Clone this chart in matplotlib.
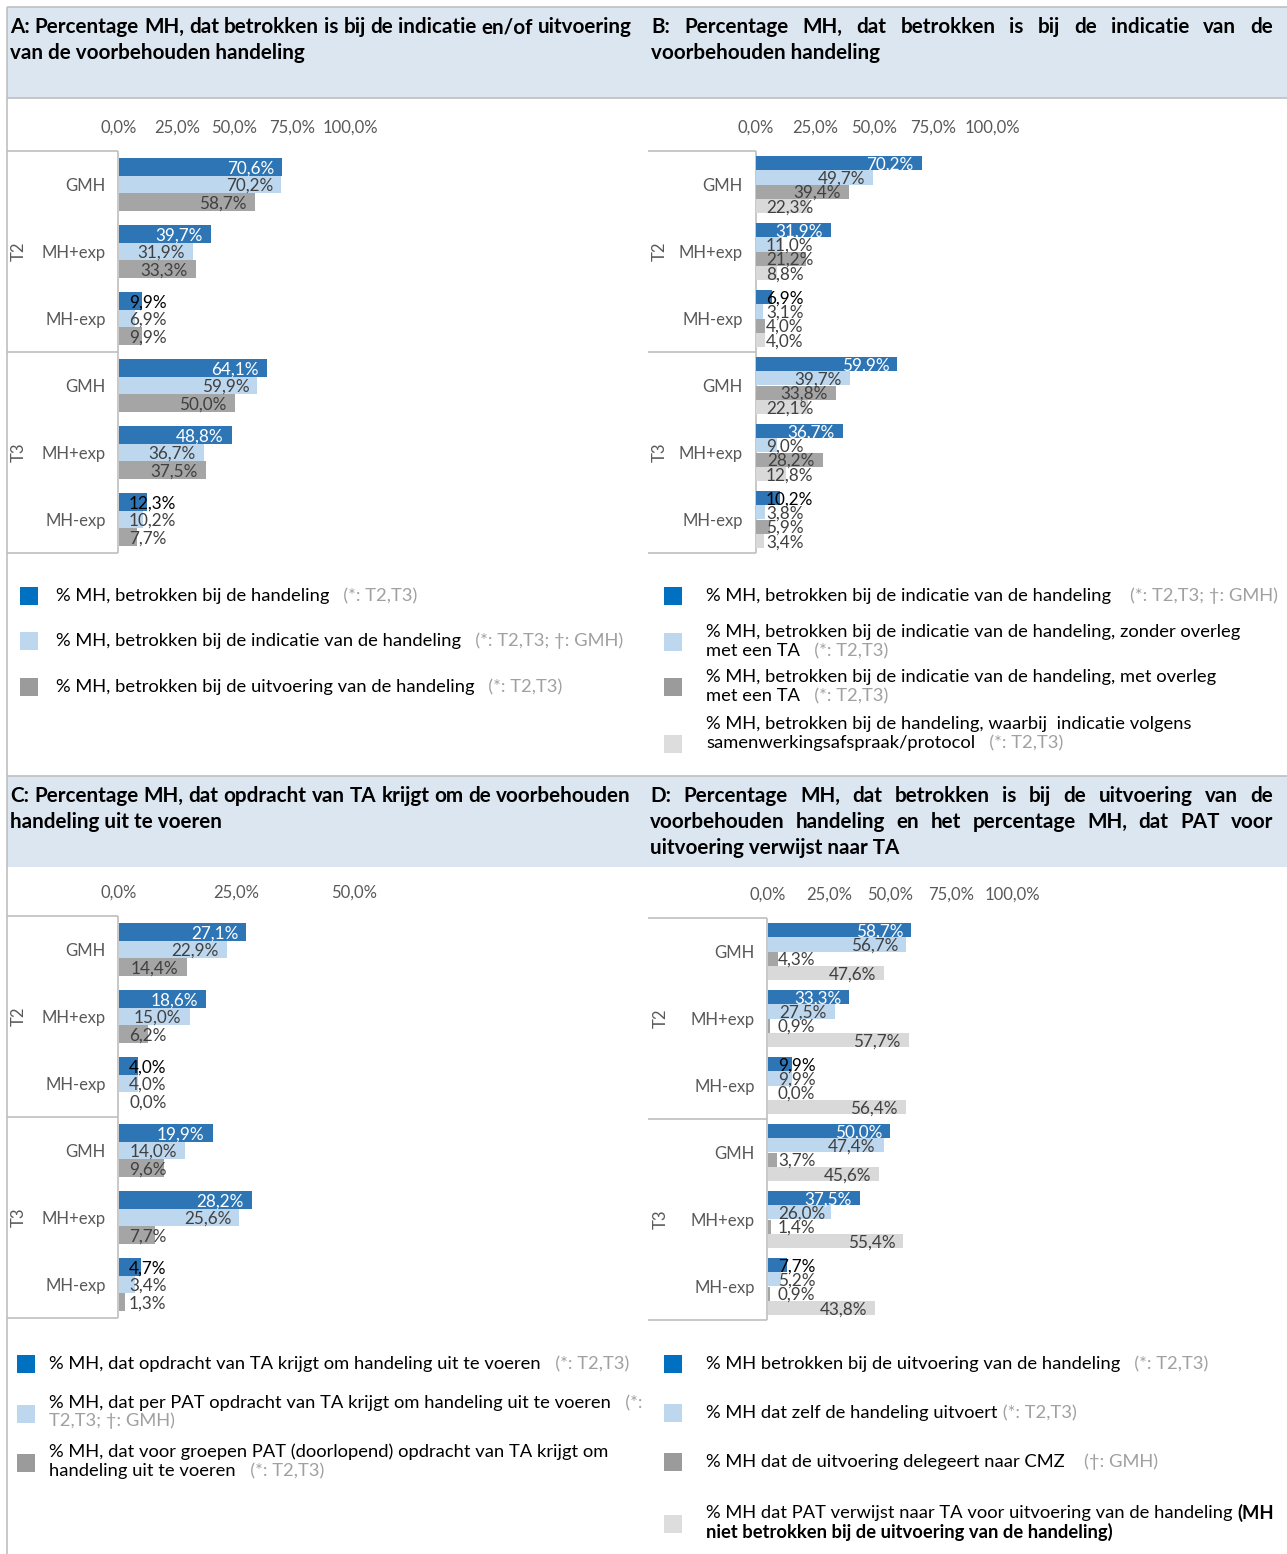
import matplotlib
matplotlib.use("Agg")
import matplotlib.pyplot as plt
from matplotlib.patches import Rectangle

plt.rcParams["font.family"] = ["Lato", "DejaVu Sans"]

# ---- data -------------------------------------------------------------
periods = ["T2", "T3"]
groups = ["GMH", "MH+exp", "MH-exp"]
rows = [g for p in periods for g in groups]

# A
a_handeling = [70.6, 39.7, 9.9, 64.1, 48.8, 12.3]
a_indicatie = [70.2, 31.9, 6.9, 59.9, 36.7, 10.2]
a_uitvoering = [58.7, 33.3, 9.9, 50.0, 37.5, 7.7]
# B
b_indicatie = [70.2, 31.9, 6.9, 59.9, 36.7, 10.2]
b_zonder_overleg = [49.7, 11.0, 3.1, 39.7, 9.0, 3.8]
b_met_overleg = [39.4, 21.2, 4.0, 33.8, 28.2, 5.9]
b_protocol = [22.3, 8.8, 4.0, 22.1, 12.8, 3.4]
# C
c_opdracht = [27.1, 18.6, 4.0, 19.9, 28.2, 4.7]
c_per_pat = [22.9, 15.0, 4.0, 14.0, 25.6, 3.4]
c_groepen = [14.4, 6.2, 0.0, 9.6, 7.7, 1.3]
# D
d_uitvoering = [58.7, 33.3, 9.9, 50.0, 37.5, 7.7]
d_zelf = [56.7, 27.5, 9.9, 47.4, 26.0, 5.2]
d_cmz = [4.3, 0.9, 0.0, 3.7, 1.4, 0.9]
d_verwijst = [47.6, 57.7, 56.4, 45.6, 55.4, 43.8]

ticks_100 = [0, 25, 50, 75, 100]
ticks_50 = [0, 25, 50]

# ---- style ------------------------------------------------------------
DARK, LIGHT, GREY, PALE = "#2E75B6", "#BDD7EE", "#A5A5A5", "#D9D9D9"
LEG = ["#0070C0", "#BDD7EE", "#9B9B9B", "#DDDDDD"]
LINE = "#BFBFBF"
BAND = "#DCE6F1"
TXT = "#595959"
VAL = "#404040"
NOTE = "#A0A0A0"

W, H = 1287, 1554
fig = plt.figure(figsize=(W / 100, H / 100), dpi=100)
bg = fig.add_axes([0, 0, 1, 1])
bg.set_xlim(0, W)
bg.set_ylim(H, 0)
bg.axis("off")
R = fig.canvas.get_renderer()


def hline(y, x0, x1, lw=1.2):
    bg.plot([x0, x1], [y, y], color=LINE, lw=lw, solid_capstyle="butt")


def vline(x, y0, y1, lw=1.2):
    bg.plot([x, x], [y0, y1], color=LINE, lw=lw, solid_capstyle="butt")


def text_width(s, **kw):
    t = bg.text(0, 0, s, **kw)
    w = t.get_window_extent(R).width
    t.remove()
    return w


def pct(v):
    return f"{v:.1f}%".replace(".", ",")


# font sizes fitted to the reference text widths
title_fs = 10 * 622 / text_width(
    "A: Percentage MH, dat betrokken is bij de indicatie en/of uitvoering",
    fontsize=10, fontweight="bold")
leg_fs = 10 * 491 / text_width(
    "% MH, dat opdracht van TA krijgt om handeling uit te voeren", fontsize=10)


def justify(words, x0, x1, y):
    kw = dict(fontsize=title_fs, fontweight="bold", va="center", ha="left")
    ws = [text_width(w, **kw) for w in words]
    gap = (x1 - x0 - sum(ws)) / (len(words) - 1)
    x = x0
    for w, wd in zip(words, ws):
        bg.text(x, y, w, **kw)
        x += wd + gap


def header(lines, x0, x1, ys):
    for i, (line, y) in enumerate(zip(lines, ys)):
        if i < len(lines) - 1:
            justify(line.split(), x0, x1, y)
        else:
            bg.text(x0, y, line, fontsize=title_fs, fontweight="bold",
                    va="center", ha="left")


def table(xl, xr, y0, y1, xlab):
    ym = (y0 + y1) / 2
    hline(y0, xl, xr)
    hline(ym, xl, xr)
    hline(y1, xl, xr)
    vline(xr, y0, y1)
    for p, yc in zip(periods, [(y0 + ym) / 2, (ym + y1) / 2]):
        bg.text(xlab, yc, p, rotation=90, fontsize=12, color=TXT,
                ha="center", va="center")


def bar_panel(box, xmax, ticks, series, colors, span):
    x0, x1, y0, y1 = box
    ax = fig.add_axes([x0 / W, 1 - y1 / H, (x1 - x0) / W, (y1 - y0) / H])
    ax.patch.set_alpha(0)
    n = len(series)
    h = span / n
    ypos = list(range(len(rows)))
    px = (x1 - x0) / xmax
    for k, (vals, col) in enumerate(zip(series, colors)):
        off = (k - (n - 1) / 2) * h
        yk = [y + off for y in ypos]
        ax.barh(yk, vals, height=h, color=col, linewidth=0)
        for v, y in zip(vals, yk):
            lbl = pct(v)
            w = text_width(lbl, fontsize=12.3)
            inside = v * px - 8 - w >= 10
            if k == 0:
                c = "white" if inside else "black"
            else:
                c = VAL
            if inside:
                ax.annotate(lbl, xy=(v, y), xytext=(-8, -1.5),
                            textcoords="offset pixels", ha="right",
                            va="center", fontsize=12.3, color=c)
            else:
                ax.annotate(lbl, xy=(0, y), xytext=(10, -1.5),
                            textcoords="offset pixels", ha="left",
                            va="center", fontsize=12.3, color=c)
    ax.set_xlim(0, xmax)
    ax.set_ylim(len(rows) - 0.5, -0.5)
    ax.xaxis.tick_top()
    ax.set_xticks(ticks)
    ax.set_xticklabels([pct(t) for t in ticks])
    ax.set_yticks(ypos)
    ax.set_yticklabels(rows)
    ax.tick_params(axis="x", length=0, pad=11, labelsize=12, labelcolor=TXT)
    ax.tick_params(axis="y", length=0, pad=9.5, labelsize=12, labelcolor=TXT)
    for s in ax.spines.values():
        s.set_visible(False)
    return ax


def legend(x_sq, x_txt, items):
    for col, ysq, lines in items:
        bg.add_patch(Rectangle((x_sq, ysq - 9), 18, 18, color=col, lw=0))
        for y, segs in lines:
            prev = None
            for s, st in segs:
                kw = dict(fontsize=leg_fs, va="center", ha="left",
                          color=NOTE if st == "g" else "black",
                          fontweight="bold" if st == "b" else "normal")
                if prev is None:
                    prev = bg.text(x_txt, y, s, **kw)
                else:
                    prev = bg.annotate(s, xy=(1, 0.5), xycoords=prev, **kw)


# ---- page frame -------------------------------------------------------
bg.add_patch(Rectangle((7, 7), W - 7, 91, color=BAND, lw=0))
bg.add_patch(Rectangle((7, 776), W - 7, 91, color=BAND, lw=0))
hline(7, 7, W)
hline(98, 7, W)
hline(776, 7, W)
vline(7, 7, H)

# ---- headers ----------------------------------------------------------
header(["A: Percentage MH, dat betrokken is bij de indicatie en/of uitvoering",
        "van de voorbehouden handeling"], 10, 632, [27, 53])
header(["B: Percentage MH, dat betrokken is bij de indicatie van de",
        "voorbehouden handeling"], 651, 1273, [27, 53])
header(["C: Percentage MH, dat opdracht van TA krijgt om de voorbehouden",
        "handeling uit te voeren"], 10, 631, [796, 822])
header(["D: Percentage MH, dat betrokken is bij de uitvoering van de",
        "voorbehouden handeling en het percentage MH, dat PAT voor",
        "uitvoering verwijst naar TA"], 650, 1273, [796, 822, 848])

# ---- tables and bars --------------------------------------------------
table(7, 118, 151, 553, 19)
table(648, 756, 151, 553, 660)
table(7, 118, 916, 1318, 19)
table(648, 767, 918, 1320, 661)

bar_panel((119, 350, 151, 553), 100, ticks_100,
          [a_handeling, a_indicatie, a_uitvoering], [DARK, LIGHT, GREY], 0.8)
bar_panel((756, 992, 151, 553), 100, ticks_100,
          [b_indicatie, b_zonder_overleg, b_met_overleg, b_protocol],
          [DARK, LIGHT, GREY, PALE], 0.85)
bar_panel((119, 354, 916, 1318), 50, ticks_50,
          [c_opdracht, c_per_pat, c_groepen], [DARK, LIGHT, GREY], 0.8)
bar_panel((768, 1012, 918, 1320), 100, ticks_100,
          [d_uitvoering, d_zelf, d_cmz, d_verwijst],
          [DARK, LIGHT, GREY, PALE], 0.85)

# ---- legends ----------------------------------------------------------
legend(20, 56, [
    (LEG[0], 596, [(596, [("% MH, betrokken bij de handeling", "n"),
                          ("   (*: T2,T3)", "g")])]),
    (LEG[1], 641, [(641, [("% MH, betrokken bij de indicatie van de handeling", "n"),
                          ("   (*: T2,T3; †: GMH)", "g")])]),
    (LEG[2], 687, [(687, [("% MH, betrokken bij de uitvoering van de handeling", "n"),
                          ("   (*: T2,T3)", "g")])]),
])
legend(664, 706, [
    (LEG[0], 596, [(596, [("% MH, betrokken bij de indicatie van de handeling", "n"),
                          ("    (*: T2,T3; †: GMH)", "g")])]),
    (LEG[1], 642, [(632, [("% MH, betrokken bij de indicatie van de handeling, zonder overleg", "n")]),
                   (651, [("met een TA", "n"), ("   (*: T2,T3)", "g")])]),
    (LEG[2], 687, [(677, [("% MH, betrokken bij de indicatie van de handeling, met overleg", "n")]),
                   (696, [("met een TA", "n"), ("   (*: T2,T3)", "g")])]),
    (LEG[3], 744, [(724, [("% MH, betrokken bij de handeling, waarbij  indicatie volgens", "n")]),
                   (743, [("samenwerkingsafspraak/protocol", "n"), ("   (*: T2,T3)", "g")])]),
])
legend(17, 49, [
    (LEG[0], 1364, [(1364, [("% MH, dat opdracht van TA krijgt om handeling uit te voeren", "n"),
                            ("   (*: T2,T3)", "g")])]),
    (LEG[1], 1414, [(1403, [("% MH, dat per PAT opdracht van TA krijgt om handeling uit te voeren", "n"),
                            ("   (*:", "g")]),
                    (1421, [("T2,T3; †: GMH)", "g")])]),
    (LEG[2], 1463, [(1452, [("% MH, dat voor groepen PAT (doorlopend) opdracht van TA krijgt om", "n")]),
                    (1471, [("handeling uit te voeren", "n"), ("   (*: T2,T3)", "g")])]),
])
legend(664, 706, [
    (LEG[0], 1364, [(1364, [("% MH betrokken bij de uitvoering van de handeling", "n"),
                            ("   (*: T2,T3)", "g")])]),
    (LEG[1], 1413, [(1413, [("% MH dat zelf de handeling uitvoert", "n"),
                            (" (*: T2,T3)", "g")])]),
    (LEG[2], 1462, [(1462, [("% MH dat de uitvoering delegeert naar CMZ", "n"),
                            ("    (†: GMH)", "g")])]),
    (LEG[3], 1524, [(1513, [("% MH dat PAT verwijst naar TA voor uitvoering van de handeling ", "n"),
                            ("(MH", "b")]),
                    (1532, [("niet betrokken bij de uitvoering van de handeling)", "b")])]),
])

fig.savefig("out.png", dpi=100)
